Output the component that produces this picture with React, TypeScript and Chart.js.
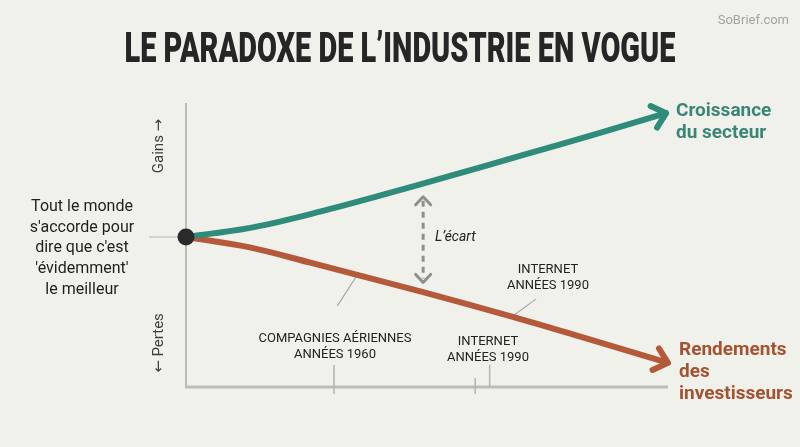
import React, { useEffect, useRef } from "react";
import { Chart, registerables } from "chart.js";

Chart.register(...registerables);

const TITLE = "LE PARADOXE DE L\u2019INDUSTRIE EN VOGUE";
const WATERMARK = "SoBrief.com";

// Sector growth (time 0..100, value in arbitrary gain units)
const growthX = [0, 13, 26, 40, 55, 70, 85, 99.6];
const growthY = [0, 3.3, 8.6, 15.3, 22.9, 30.6, 38.4, 46.2];

// Investor returns
const returnsX = [0, 13, 26, 49, 68, 82, 100];
const returnsY = [0, -3.8, -9.7, -20.5, -29.9, -37.3, -47];

const growthLabel = ["Croissance", "du secteur"];
const returnsLabel = ["Rendements", "des", "investisseurs"];
const originLabel = ["Tout le monde", "s'accorde pour", "dire que c'est", "'\u00e9videmment'", "le meilleur"];
const airlineLabel = ["COMPAGNIES A\u00c9RIENNES", "ANN\u00c9ES 1960"];
const internetLabel = ["INTERNET", "ANN\u00c9ES 1990"];
const gapLabel = "L\u2019\u00e9cart";
const gainsLabel = "Gains \u2192";
const lossesLabel = "\u2190 Pertes";

const GREEN = "#2f8b7a";
const RED = "#b4593a";
const BG = "#f1f1ec";

const X_MIN = 0, X_MAX = 100, Y_MIN = -56, Y_MAX = 50;

function chevron(ctx: CanvasRenderingContext2D, x: number, y: number, ang: number, len: number, spread: number) {
  ctx.beginPath();
  ctx.moveTo(x - len * Math.cos(ang - spread), y - len * Math.sin(ang - spread));
  ctx.lineTo(x, y);
  ctx.lineTo(x - len * Math.cos(ang + spread), y - len * Math.sin(ang + spread));
  ctx.stroke();
}

const overlay = {
  id: "overlay",
  beforeDraw(chart: any) {
    const { ctx, width, height } = chart;
    ctx.save();
    ctx.fillStyle = BG;
    ctx.fillRect(0, 0, width, height);
    ctx.restore();
  },
  beforeDatasetsDraw(chart: any) {
    const ctx: CanvasRenderingContext2D = chart.ctx;
    const xs = chart.scales.x, ys = chart.scales.y;
    const x0 = xs.getPixelForValue(0);
    const x1 = xs.getPixelForValue(X_MAX);
    const yTop = ys.getPixelForValue(Y_MAX);
    const yBot = ys.getPixelForValue(Y_MIN);
    const yOrig = ys.getPixelForValue(0);
    ctx.save();
    ctx.lineCap = "butt";
    // axes
    ctx.strokeStyle = "#bdbdb8";
    ctx.lineWidth = 2;
    ctx.beginPath();
    ctx.moveTo(x0, yTop);
    ctx.lineTo(x0, yBot);
    ctx.stroke();
    ctx.lineWidth = 3;
    ctx.beginPath();
    ctx.moveTo(x0 - 1, yBot);
    ctx.lineTo(x1, yBot);
    ctx.stroke();
    // origin tick
    ctx.strokeStyle = "#cacac5";
    ctx.lineWidth = 1.5;
    ctx.beginPath();
    ctx.moveTo(x0 - 37, yOrig);
    ctx.lineTo(x0, yOrig);
    ctx.stroke();
    // x ticks / leaders
    ctx.strokeStyle = "#b5b5b0";
    ctx.lineWidth = 1.5;
    const tA = xs.getPixelForValue(30.7);
    const tB = xs.getPixelForValue(60.0);
    const tC = xs.getPixelForValue(63.0);
    ctx.beginPath();
    ctx.moveTo(tA, yBot - 22); ctx.lineTo(tA, yBot + 7);
    ctx.moveTo(tB, yBot - 9); ctx.lineTo(tB, yBot + 7);
    ctx.moveTo(tC, yBot - 22); ctx.lineTo(tC, yBot);
    ctx.stroke();
    // leaders to red line
    ctx.strokeStyle = "#a8a8a3";
    ctx.lineWidth = 1.2;
    ctx.beginPath();
    ctx.moveTo(xs.getPixelForValue(31.4), ys.getPixelForValue(-25.7));
    ctx.lineTo(xs.getPixelForValue(35.5), ys.getPixelForValue(-14.3));
    ctx.moveTo(xs.getPixelForValue(72.6), ys.getPixelForValue(-23.2));
    ctx.lineTo(xs.getPixelForValue(67.8), ys.getPixelForValue(-29.5));
    ctx.stroke();
    // gap arrow
    const gx = xs.getPixelForValue(49.2);
    const gTop = ys.getPixelForValue(15);
    const gBot = ys.getPixelForValue(-17);
    ctx.strokeStyle = "#8f8f8c";
    ctx.lineWidth = 3;
    ctx.setLineDash([6, 5]);
    ctx.beginPath();
    ctx.moveTo(gx, gTop + 4);
    ctx.lineTo(gx, gBot - 4);
    ctx.stroke();
    ctx.setLineDash([]);
    ctx.lineCap = "round";
    ctx.lineJoin = "round";
    chevron(ctx, gx, gTop, -Math.PI / 2, 11, 0.75);
    chevron(ctx, gx, gBot, Math.PI / 2, 11, 0.75);
    ctx.restore();
  },
  afterDatasetsDraw(chart: any) {
    const ctx: CanvasRenderingContext2D = chart.ctx;
    const xs = chart.scales.x, ys = chart.scales.y;
    ctx.save();
    ctx.lineCap = "round";
    ctx.lineJoin = "round";
    // arrowheads
    const heads = [
      { xa: growthX, ya: growthY, c: GREEN },
      { xa: returnsX, ya: returnsY, c: RED },
    ];
    heads.forEach((h) => {
      const n = h.xa.length;
      const px = xs.getPixelForValue(h.xa[n - 1]);
      const py = ys.getPixelForValue(h.ya[n - 1]);
      const qx = xs.getPixelForValue(h.xa[n - 2]);
      const qy = ys.getPixelForValue(h.ya[n - 2]);
      const ang = Math.atan2(py - qy, px - qx);
      ctx.strokeStyle = h.c;
      ctx.lineWidth = 6;
      chevron(ctx, px, py, ang, 17, 0.72);
    });
    // origin dot
    const ox = xs.getPixelForValue(0), oy = ys.getPixelForValue(0);
    ctx.fillStyle = "#2a2a2a";
    ctx.beginPath();
    ctx.arc(ox, oy, 8.5, 0, Math.PI * 2);
    ctx.fill();

    // texts
    ctx.textBaseline = "middle";
    ctx.textAlign = "center";
    ctx.fillStyle = "#262626";
    ctx.font = "900 43px Roboto";
    ctx.fillText(TITLE, 400, 51, 551);

    ctx.fillStyle = "#a3a3a0";
    ctx.font = "13px 'Liberation Sans Narrow', Roboto";
    ctx.textAlign = "right";
    ctx.fillText(WATERMARK, 789, 21);

    ctx.textAlign = "center";
    ctx.fillStyle = "#1f1f1f";
    ctx.font = "16px Roboto";
    originLabel.forEach((t, i) => ctx.fillText(t, 82, 207 + i * 20.7));

    ctx.font = "13px Roboto";
    ctx.fillStyle = "#222";
    airlineLabel.forEach((t, i) => ctx.fillText(t, 335, 339 + i * 16));
    internetLabel.forEach((t, i) => ctx.fillText(t, 488, 342 + i * 16));
    internetLabel.forEach((t, i) => ctx.fillText(t, 548, 270 + i * 15.5));

    ctx.font = "italic 14px Roboto";
    ctx.textAlign = "left";
    ctx.fillText(gapLabel, 435, 237);

    ctx.font = "bold 19px Roboto";
    ctx.fillStyle = "#3a8676";
    growthLabel.forEach((t, i) => ctx.fillText(t, 676, 111 + i * 22));
    ctx.fillStyle = "#a4522f";
    returnsLabel.forEach((t, i) => ctx.fillText(t, 679, 350 + i * 22));

    // rotated axis labels
    ctx.fillStyle = "#3e3e3e";
    ctx.font = "15px Roboto, 'DejaVu Sans'";
    ctx.textAlign = "center";
    ctx.save();
    ctx.translate(159, 146);
    ctx.rotate(-Math.PI / 2);
    ctx.fillText(gainsLabel, 0, 0);
    ctx.restore();
    ctx.save();
    ctx.translate(159, 343);
    ctx.rotate(-Math.PI / 2);
    ctx.fillText(lossesLabel, 0, 0);
    ctx.restore();
    ctx.restore();
  },
};

export default function App() {
  const ref = useRef<HTMLCanvasElement | null>(null);
  useEffect(() => {
    if (!ref.current) return;
    const toPts = (xa: number[], ya: number[]) => xa.map((x, i) => ({ x, y: ya[i] }));
    const chart = new Chart(ref.current, {
      type: "line",
      data: {
        datasets: [
          {
            label: "Croissance du secteur",
            data: toPts(growthX, growthY),
            borderColor: GREEN,
            borderWidth: 6,
            pointRadius: 0,
            tension: 0.35,
            borderCapStyle: "round",
          },
          {
            label: "Rendements des investisseurs",
            data: toPts(returnsX, returnsY),
            borderColor: RED,
            borderWidth: 6,
            pointRadius: 0,
            tension: 0.35,
            borderCapStyle: "round",
          },
        ],
      },
      options: {
        animation: false,
        responsive: false,
        maintainAspectRatio: false,
        layout: { padding: { left: 186, right: 132, top: 103, bottom: 60 } },
        plugins: { legend: { display: false }, tooltip: { enabled: false } },
        scales: {
          x: { type: "linear", min: X_MIN, max: X_MAX, display: false },
          y: { type: "linear", min: Y_MIN, max: Y_MAX, display: false },
        },
      },
      plugins: [overlay],
    });
    return () => chart.destroy();
  }, []);
  return (
    <div style={{ position: "fixed", left: 0, top: 0, width: 800, height: 447, background: BG }}>
      <canvas ref={ref} width={800} height={447} style={{ width: 800, height: 447, display: "block" }} />
    </div>
  );
}
